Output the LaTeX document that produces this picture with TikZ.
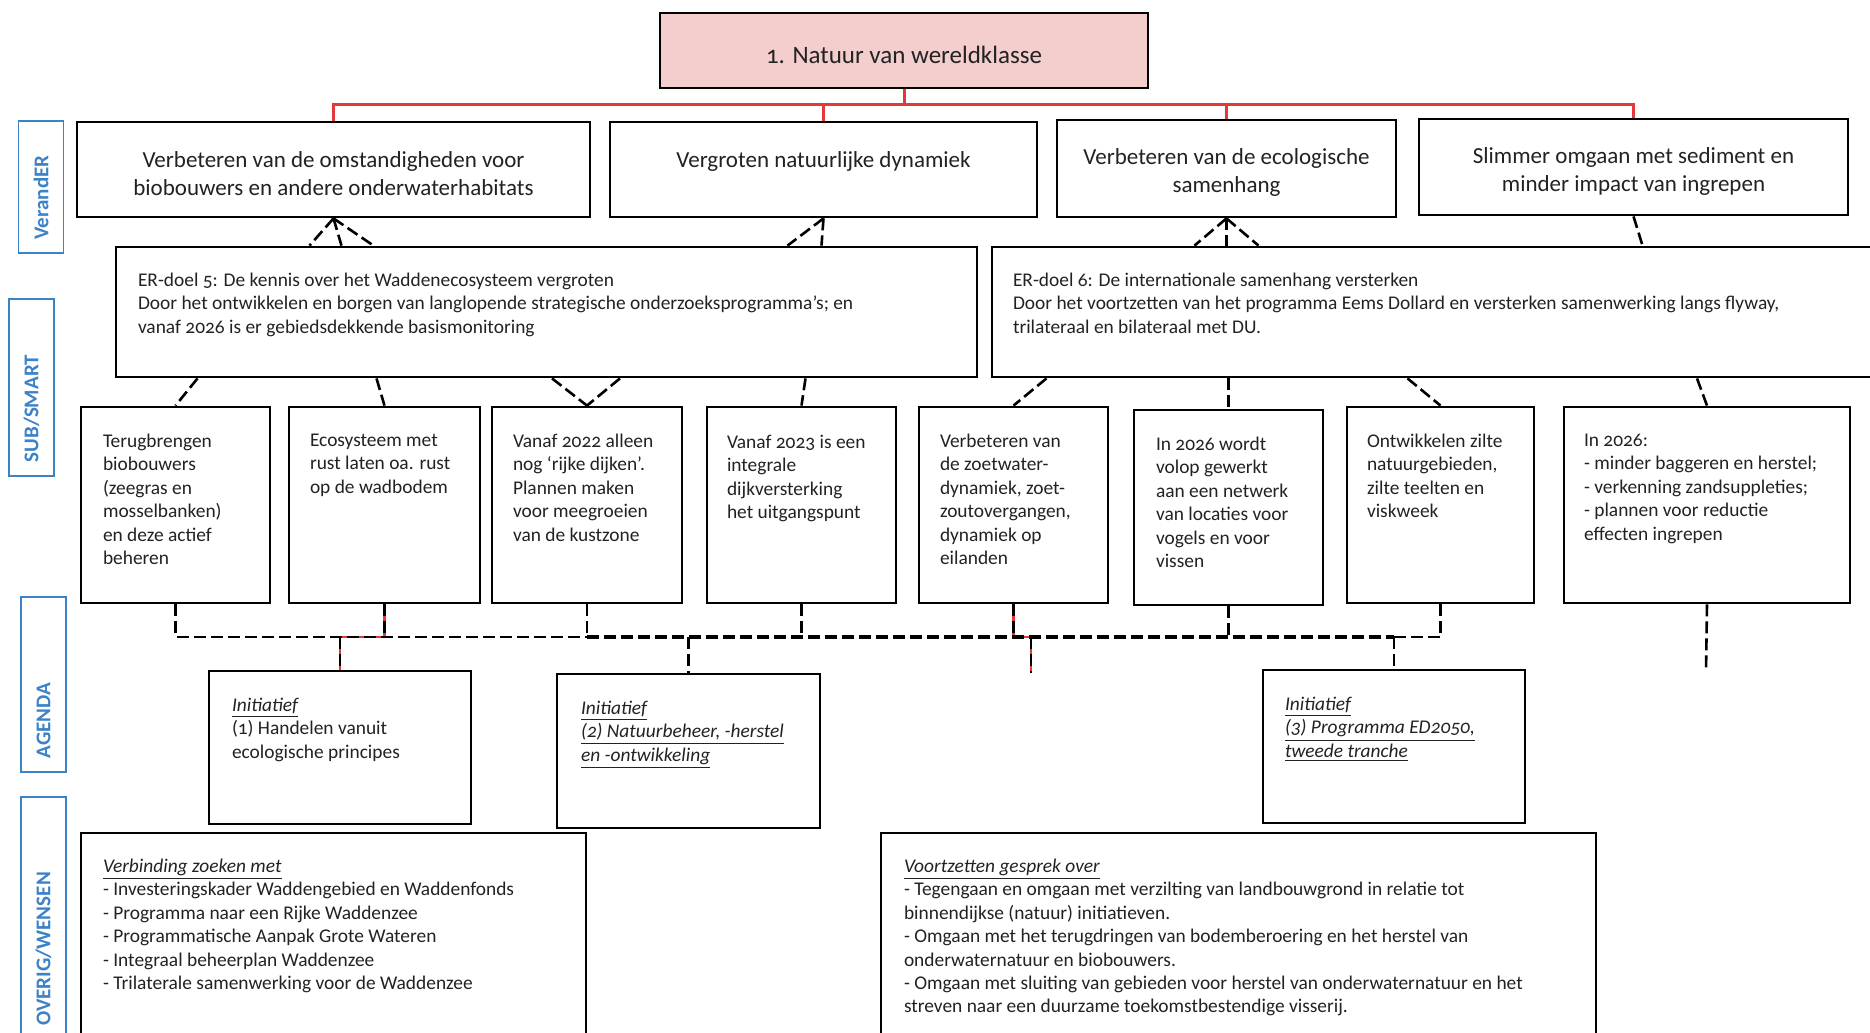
\documentclass[tikz,border=0pt]{standalone}
\usepackage{fontspec}
\setmainfont{Carlito}[Numbers=OldStyle]
\usetikzlibrary{calc}

\definecolor{topfill}{HTML}{F4CDCD}
\definecolor{linkred}{HTML}{E23A3A}
\definecolor{tagblue}{HTML}{3B82C8}
\definecolor{ink}{HTML}{222222}

\begin{document}
\begin{tikzpicture}[x=0.5pt, y=-0.5pt,
  box/.style={draw, line width=1.4pt, fill=white, inner sep=0pt},
  tag/.style={draw=tagblue, line width=0.8pt, inner sep=0pt, minimum width=22.5pt},
  tagtext/.style={rotate=90, anchor=west, inner sep=0pt, text=tagblue, font=\fontsize{10.5}{12}\selectfont\bfseries},
  head/.style={anchor=north, inner sep=0pt, align=center, text=ink, font=\fontsize{11.5}{13.8}\selectfont},
  body/.style={anchor=north west, inner sep=0pt, align=left, text=ink, font=\fontsize{9.7}{11.7}\selectfont},
  redlink/.style={draw=linkred, line width=1.5pt},
  redunder/.style={draw=linkred, line width=1.3pt},
  link/.style={draw, line width=1.3pt, dash pattern=on 6pt off 2.5pt},
  buslink/.style={link, line width=2.1pt},
]
\useasboundingbox (0,0) rectangle (1870,1033);

% row labels on the left
\node[tag, minimum height=66pt]   (lver) at (41,187)    {};
\node[tag, minimum height=88.5pt] (lsub) at (31.5,387.5) {};
\node[tag, minimum height=87.5pt] (lage) at (43.5,684.5) {};
\node[tag, minimum height=124pt]  (love) at (43.5,921)  {};
\node[tagtext] (lvert) at ([yshift=7pt]lver.south) {VerandER};
\node[tagtext] (lsubt) at ([yshift=7pt]lsub.south) {SUB/SMART};
\node[tagtext] (laget) at ([yshift=7pt]lage.south) {AGENDA};
\node[tagtext] (lovet) at (43.5,1026) {OVERIG/WENSEN};

% main goal
\node[box, fill=topfill, minimum width=244pt, minimum height=37.5pt] (top) at (904,50.5) {};
\node[head, anchor=base, font=\fontsize{12.5}{15}\selectfont] (topt) at (904,63) {1. Natuur van wereldklasse};

% VerandER row
\node[box, minimum width=256.5pt, minimum height=47.5pt] (v1) at (333.5,169.5) {};
\node[box, minimum width=213.5pt, minimum height=47.5pt] (v2) at (823.5,169.5) {};
\node[box, minimum width=169.5pt, minimum height=48.5pt] (v3) at (1226.5,168.5) {};
\node[box, minimum width=214.5pt, minimum height=48pt]   (v4) at (1633.5,167)   {};
\node[head] (v1t) at ([yshift=-15.5pt]v1.north) {Verbeteren van de omstandigheden voor\\biobouwers en andere onderwaterhabitats};
\node[head] (v2t) at ([yshift=-15.5pt]v2.north) {Vergroten natuurlijke dynamiek};
\node[head] (v3t) at ([yshift=-15pt]v3.north) {Verbeteren van de ecologische\\samenhang};
\node[head] (v4t) at ([yshift=-15pt]v4.north) {Slimmer omgaan met sediment en\\minder impact van ingrepen};

% ER goals
\node[box, minimum width=430.5pt, minimum height=65pt] (er5) at (546.5,312) {};
\node[box, minimum width=449pt,   minimum height=65pt] (er6) at (1441,312)  {};
\node[body] (er5t) at ([xshift=11.5pt,yshift=-13.5pt]er5.north west) {ER-doel 5: De kennis over het Waddenecosysteem vergroten\\Door het ontwikkelen en borgen van langlopende strategische onderzoeksprogramma’s; en\\vanaf 2026 is er gebiedsdekkende basismonitoring};
\node[body] (er6t) at ([xshift=11pt,yshift=-13.5pt]er6.north west) {ER-doel 6: De internationale samenhang versterken\\Door het voortzetten van het programma Eems Dollard en versterken samenwerking langs flyway,\\trilateraal en bilateraal met DU.};

% SUB/SMART row
\node[box, minimum width=94.5pt, minimum height=98pt]   (t1) at (175.5,505)  {};
\node[box, minimum width=95.5pt, minimum height=98pt]   (t2) at (384.5,505)  {};
\node[box, minimum width=95pt,   minimum height=98pt]   (t3) at (587,505)    {};
\node[box, minimum width=94.5pt, minimum height=98pt]   (t4) at (801.5,505)  {};
\node[box, minimum width=94.5pt, minimum height=98pt]   (t5) at (1013.5,505) {};
\node[box, minimum width=94.5pt, minimum height=97.5pt] (t6) at (1228.5,507.5) {};
\node[box, minimum width=93.5pt, minimum height=98pt]   (t7) at (1440.5,505) {};
\node[box, minimum width=143pt,  minimum height=98pt]   (t8) at (1707,505)   {};
\node[body] (t1t) at ([xshift=11.5pt,yshift=-14pt]t1.north west) {Terugbrengen\\biobouwers\\(zeegras en\\mosselbanken)\\en deze actief\\beheren};
\node[body] (t2t) at ([xshift=11pt,yshift=-14pt]t2.north west) {Ecosysteem met\\rust laten oa. rust\\op de wadbodem};
\node[body] (t3t) at ([xshift=11pt,yshift=-14pt]t3.north west) {Vanaf 2022 alleen\\nog ‘rijke dijken’.\\Plannen maken\\voor meegroeien\\van de kustzone};
\node[body] (t4t) at ([xshift=10.5pt,yshift=-14.5pt]t4.north west) {Vanaf 2023 is een\\integrale\\dijkversterking\\het uitgangspunt};
\node[body] (t5t) at ([xshift=11pt,yshift=-14pt]t5.north west) {Verbeteren van\\de zoetwater-\\dynamiek, zoet-\\zoutovergangen,\\dynamiek op\\eilanden};
\node[body] (t6t) at ([xshift=11.5pt,yshift=-14pt]t6.north west) {In 2026 wordt\\volop gewerkt\\aan een netwerk\\van locaties voor\\vogels en voor\\vissen};
\node[body] (t7t) at ([xshift=10.5pt,yshift=-14pt]t7.north west) {Ontwikkelen zilte\\natuurgebieden,\\zilte teelten en\\viskweek};
\node[body] (t8t) at ([xshift=10.5pt,yshift=-14pt]t8.north west) {In 2026:\\- minder baggeren en herstel;\\- verkenning zandsuppleties;\\- plannen voor reductie\\effecten ingrepen};

% AGENDA row
\node[box, minimum width=131pt,   minimum height=76.5pt] (a1) at (340,747.5)   {};
\node[box, minimum width=131.5pt, minimum height=77pt]   (a2) at (688.5,751)   {};
\node[box, minimum width=131pt,   minimum height=76.5pt] (a3) at (1394,746.5)  {};
\node[body] (a1t) at ([xshift=12pt,yshift=-14pt]a1.north west) {\underline{\itshape Initiatief}\\(1) Handelen vanuit\\ecologische principes};
\node[body] (a2t) at ([xshift=12.5pt,yshift=-14pt]a2.north west) {\underline{\itshape Initiatief}\\\underline{\itshape (2) Natuurbeheer, -herstel}\\\underline{\itshape en -ontwikkeling}};
\node[body] (a3t) at ([xshift=11.5pt,yshift=-14pt]a3.north west) {\underline{\itshape Initiatief}\\\underline{\itshape (3) Programma ED2050,}\\\underline{\itshape tweede tranche}};

% OVERIG/WENSEN row
\node[box, minimum width=252.5pt, minimum height=106pt] (b1) at (333.5,939)  {};
\node[box, minimum width=357.5pt, minimum height=106pt] (b2) at (1238.5,939) {};
\node[body] (b1t) at ([xshift=11.5pt,yshift=-13.5pt]b1.north west) {\underline{\itshape Verbinding zoeken met}\\- Investeringskader Waddengebied en Waddenfonds\\- Programma naar een Rijke Waddenzee\\- Programmatische Aanpak Grote Wateren\\- Integraal beheerplan Waddenzee\\- Trilaterale samenwerking voor de Waddenzee};
\node[body] (b2t) at ([xshift=12pt,yshift=-13.5pt]b2.north west) {\underline{\itshape Voortzetten gesprek over}\\- Tegengaan en omgaan met verzilting van landbouwgrond in relatie tot\\binnendijkse (natuur) initiatieven.\\- Omgaan met het terugdringen van bodemberoering en het herstel van\\onderwaternatuur en biobouwers.\\- Omgaan met sluiting van gebieden voor herstel van onderwaternatuur en het\\streven naar een duurzame toekomstbestendige visserij.};

% red tree from the main goal
\coordinate (redbus) at (904,104);
\foreach \v in {v1,v2,v3,v4}
  \draw[redlink] (top.south) -- (redbus) -| (\v.north);

% VerandER -- ER goals
\foreach \dx in {-12pt,4pt,20pt}
  \draw[link] (v1.south) -- ([xshift=\dx]v1.south |- er5.north);
\foreach \dx in {-18pt,-1pt}
  \draw[link] (v2.south) -- ([xshift=\dx]v2.south |- er5.north);
\foreach \dx in {-16pt,0pt,16pt}
  \draw[link] (v3.south) -- ([xshift=\dx]v3.south |- er6.north);
\draw[link] (v4.south) -- ([xshift=4.5pt]v4.south |- er6.north);

% ER goals -- SUB/SMART
\draw[link] ([xshift=11pt]t1.north |- er5.south) -- (t1.north);
\draw[link] ([xshift=-4pt]t2.north |- er5.south) -- (t2.north);
\draw[link] ([xshift=-17.5pt]t3.north |- er5.south) -- (t3.north);
\draw[link] ([xshift=16.5pt]t3.north |- er5.south) -- (t3.north);
\draw[link] ([xshift=2pt]t4.north |- er5.south) -- (t4.north);
\draw[link] ([xshift=16.5pt]t5.north |- er6.south) -- (t5.north);
\draw[link] (t6.north |- er6.south) -- (t6.north);
\draw[link] ([xshift=-16.5pt]t7.north |- er6.south) -- (t7.north);
\draw[link] ([xshift=-5pt]t8.north |- er6.south) -- (t8.north);

% SUB/SMART -- AGENDA
\coordinate (bus) at (0,637);
\coordinate (d5) at (1031,673);
\coordinate (d8) at (1706,672);
\draw[redunder] (t2.south) -- (t2.south |- bus) -| (a1.north);
\draw[redunder] (t5.south) -- (t5.south |- bus) -| (d5);
\draw[link] (t1.south) |- (t3.south |- bus);
\draw[buslink] (t3.south |- bus) -- (a3.north |- bus);
\draw[link] (a3.north |- bus) -- (t7.south |- bus);
\foreach \t in {t2,t3,t4,t5,t6,t7}
  \draw[link] (\t.south) -- (\t.south |- bus);
\foreach \a in {a1,a2,a3}
  \draw[link] (\a.north |- bus) -- (\a.north);
\draw[link] (d5 |- bus) -- (d5);
\draw[link] (t8.south) -- (d8);
\end{tikzpicture}
\end{document}
